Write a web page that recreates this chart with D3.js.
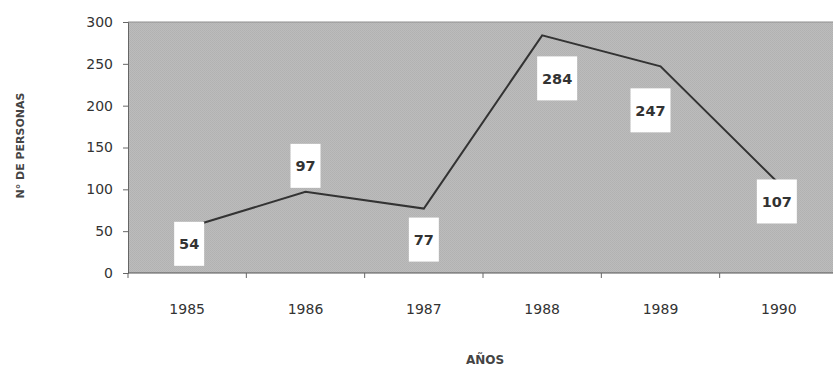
<!DOCTYPE html>
<html>
<head>
<meta charset="utf-8">
<script src="https://cdn.jsdelivr.net/npm/d3@7/dist/d3.min.js"></script>
<style>
  html, body { margin: 0; padding: 0; background: #fff; }
  svg { display: block; }
  text { font-family: "DejaVu Sans", Verdana, sans-serif; }
</style>
</head>
<body>
<svg id="chart" width="833" height="367"></svg>
<script>
// Personas por año
const years = ["1985", "1986", "1987", "1988", "1989", "1990"];
const persons = [54, 97, 77, 284, 247, 107];
const yTicks = [0, 50, 100, 150, 200, 250, 300];

// Label box offsets from each point (px), as placed on the chart
const labelDx = [2, 0, 0, 15, -10, -2];
const labelDy = [16, -26, 31, 43, 44, 18];

const W = 833, H = 367;
const margin = { left: 128, top: 22, right: -5, bottom: 94 };
const plotW = W - margin.left - margin.right;
const plotH = H - margin.top - margin.bottom;

const svg = d3.select("#chart");
const defs = svg.append("defs");
const pat = defs.append("pattern")
  .attr("id", "halftone").attr("width", 2).attr("height", 2)
  .attr("patternUnits", "userSpaceOnUse");
pat.append("rect").attr("width", 2).attr("height", 2).attr("fill", "#bcbcbc");
pat.append("rect").attr("width", 1).attr("height", 1).attr("fill", "#b1b1b1");
pat.append("rect").attr("x", 1).attr("y", 1).attr("width", 1).attr("height", 1).attr("fill", "#b3b3b3");

const g = svg.append("g").attr("transform", `translate(${margin.left},${margin.top})`);

const x = d3.scaleBand().domain(years).range([0, plotW]);
const y = d3.scaleLinear().domain([0, 300]).range([plotH, 0]);

// plot area
g.append("rect").attr("width", plotW).attr("height", plotH).attr("fill", "url(#halftone)");
g.append("line").attr("x1", 0).attr("x2", plotW).attr("y1", 0).attr("y2", 0)
  .attr("stroke", "#8f8f8f").attr("stroke-width", 1);

// y axis
const yAxis = g.append("g").call(d3.axisLeft(y).tickValues(yTicks).tickSize(5).tickPadding(10));
yAxis.select(".domain").attr("stroke", "#666");
yAxis.selectAll(".tick line").attr("stroke", "#666");
yAxis.selectAll("text").attr("font-size", 14).attr("fill", "#333");

// x axis: ticks on category boundaries, labels centred in each band
const xAxis = g.append("g").attr("transform", `translate(0,${plotH})`);
xAxis.append("line").attr("x1", 0).attr("x2", plotW).attr("stroke", "#555").attr("stroke-width", 1.2);
xAxis.selectAll("line.tk").data(years.concat(["end"])).enter().append("line")
  .attr("class", "tk")
  .attr("x1", (d, i) => i * x.step()).attr("x2", (d, i) => i * x.step())
  .attr("y1", 0).attr("y2", 5).attr("stroke", "#666");
xAxis.selectAll("text").data(years).enter().append("text")
  .attr("x", d => x(d) + x.bandwidth() / 2).attr("y", 41)
  .attr("text-anchor", "middle").attr("font-size", 14).attr("fill", "#333")
  .text(d => d);

// line
const pts = years.map((d, i) => [x(d) + x.bandwidth() / 2, y(persons[i])]);
g.append("path").datum(pts)
  .attr("d", d3.line())
  .attr("fill", "none").attr("stroke", "#333").attr("stroke-width", 2);

// value labels in white boxes
const lab = g.selectAll("g.lab").data(persons).enter().append("g").attr("class", "lab")
  .attr("transform", (d, i) => `translate(${pts[i][0] + labelDx[i]},${pts[i][1] + labelDy[i]})`);
lab.append("rect")
  .attr("x", d => -(String(d).length * 10 + 10) / 2)
  .attr("y", -22)
  .attr("width", d => String(d).length * 10 + 10)
  .attr("height", 44)
  .attr("fill", "#fff");
lab.append("text")
  .attr("text-anchor", "middle").attr("dy", "0.36em")
  .attr("font-size", 14.5).attr("font-weight", "bold").attr("fill", "#333")
  .text(d => d);

// axis titles
svg.append("text")
  .attr("transform", `translate(24,${margin.top + plotH / 2 - 2}) rotate(-90)`)
  .attr("text-anchor", "middle").attr("font-size", 11).attr("font-weight", "bold").attr("fill", "#444")
  .text("N° DE PERSONAS");
svg.append("text")
  .attr("x", 485).attr("y", 364)
  .attr("text-anchor", "middle").attr("font-size", 12).attr("font-weight", "bold").attr("fill", "#444")
  .text("AÑOS");
</script>
</body>
</html>
